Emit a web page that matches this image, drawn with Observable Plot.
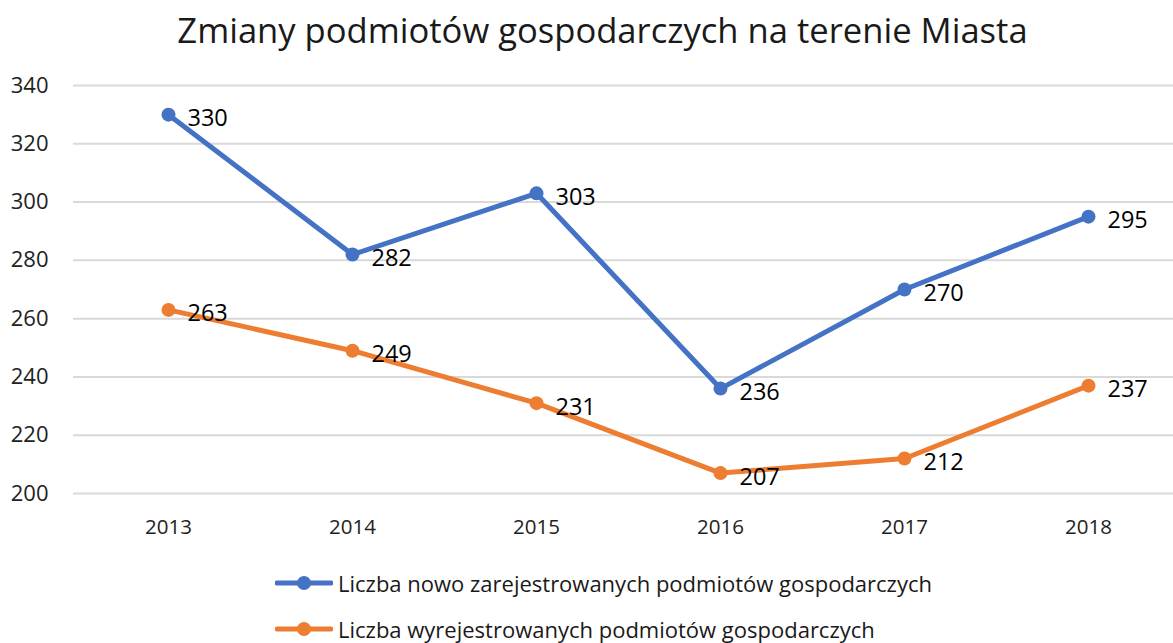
<!DOCTYPE html>
<html><head><meta charset="utf-8">
<script src="https://cdn.jsdelivr.net/npm/d3@7"></script>
<script src="https://cdn.jsdelivr.net/npm/@observablehq/plot@0.6"></script>
<style>
body{margin:0;background:#fff;font-family:"Open Sans",sans-serif;}
#wrap{width:1173px;height:643px;overflow:hidden;position:relative;}
#title{height:65px;text-align:center;font-size:34.6px;color:#1a1a1a;line-height:59px;padding-left:32px;box-sizing:border-box;}
.leg{position:absolute;left:275px;display:flex;align-items:center;font-size:22px;color:#1a1a1a;white-space:nowrap;}
.leg svg{margin-right:5px;}
</style></head><body>
<div id="wrap">
<div id="title">Zmiany podmiotów gospodarczych na terenie Miasta</div>
<div id="chart"></div>
<div id="legend"></div>
</div>
<script>
const years = ["2013","2014","2015","2016","2017","2018"];
const nowe = [330,282,303,236,270,295];
const wyrej = [263,249,231,207,212,237];
const seriesNames = ["Liczba nowo zarejestrowanych podmiotów gospodarczych","Liczba wyrejestrowanych podmiotów gospodarczych"];
const colors = ["#4472C4","#ED7D31"];
const yTicks = [200,220,240,260,280,300,320,340];

const data = [];
years.forEach((y,i)=>{
  data.push({year:y, value:nowe[i], series:seriesNames[0]});
  data.push({year:y, value:wyrej[i], series:seriesNames[1]});
});

const chart = Plot.plot({
  width:1173, height:485,
  marginTop:20, marginBottom:57, marginLeft:73, marginRight:0,
  style:{fontFamily:"Open Sans, sans-serif", color:"#333"},
  x:{type:"point", domain:years, range:[166,1090], padding:0, label:null},
  y:{domain:[200,340], label:null},
  color:{domain:seriesNames, range:colors},
  marks:[
    Plot.ruleY(yTicks,{stroke:"#d9d9d9", strokeWidth:2}),
    Plot.axisY(yTicks,{tickSize:0, tickPadding:25, fontSize:22, fill:"#222", label:null}),
    Plot.axisX({tickSize:0, tickPadding:26, fontSize:20.5, fill:"#222", label:null}),
    Plot.line(data,{x:"year", y:"value", stroke:"series", strokeWidth:5, z:"series"}),
    Plot.dot(data,{x:"year", y:"value", fill:"series", r:7}),
    Plot.text(data,{x:"year", y:"value", text:d=>String(d.value), textAnchor:"start", dx:19, dy:4, fontSize:23.5, fill:"#000"})
  ]
});
document.getElementById("chart").appendChild(chart);

const legend = document.getElementById("legend");
seriesNames.forEach((n,i)=>{
  const div = document.createElement("div");
  div.className="leg";
  div.style.top = (i===0? 568 : 614) + "px";
  div.innerHTML = `<svg width="58" height="28"><line x1="2" y1="14" x2="56" y2="14" stroke="${colors[i]}" stroke-width="5" stroke-linecap="round"/><circle cx="29" cy="14" r="7" fill="${colors[i]}"/></svg><span>${n}</span>`;
  legend.appendChild(div);
});
</script>
</body></html>
